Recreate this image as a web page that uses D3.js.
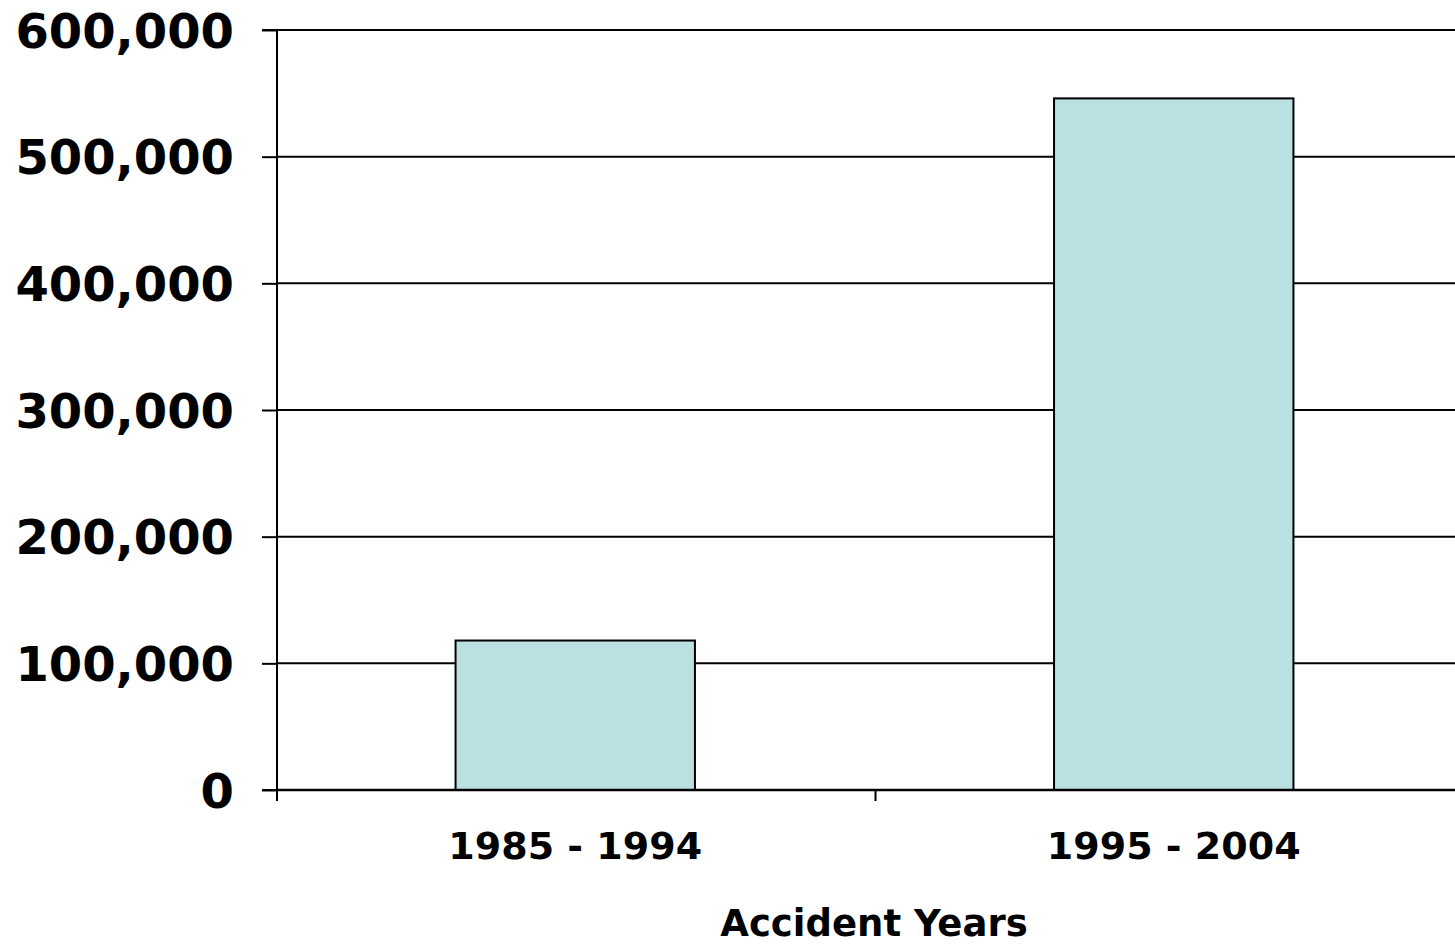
<!DOCTYPE html>
<html><head><meta charset="utf-8">
<script src="https://cdn.jsdelivr.net/npm/d3@7"></script>
<style>
html,body{margin:0;padding:0;background:#fff;}
svg{display:block;}
text{font-family:"DejaVu Sans",Verdana,sans-serif;font-weight:bold;fill:#000;}
</style></head>
<body>
<script>
const categories = ["1985 - 1994", "1995 - 2004"];
const values = [118000, 546000];
const yTicks = [0, 100000, 200000, 300000, 400000, 500000, 600000];
const xTitle = "Accident Years";

const W = 1455, H = 946;
const m = {left: 277, top: 30, bottom: 156};
const plotRight = 1474;
const svg = d3.select("body").append("svg").attr("width", W).attr("height", H);

const x = d3.scaleBand().domain(categories).range([m.left, plotRight]).paddingInner(0.6).paddingOuter(0.3);
const y = d3.scaleLinear().domain([0, 600000]).range([H - m.bottom, m.top]);

// gridlines
svg.append("g").selectAll("line").data(yTicks.filter(d => d > 0)).join("line")
  .attr("x1", m.left).attr("x2", W).attr("y1", d => y(d)).attr("y2", d => y(d))
  .attr("stroke", "#000").attr("stroke-width", 2);

// bars
svg.append("g").selectAll("rect").data(values).join("rect")
  .attr("x", (d, i) => x(categories[i]) - 1).attr("width", x.bandwidth())
  .attr("y", d => y(d)).attr("height", d => y(0) - y(d))
  .attr("fill", "#bbe0e1").attr("stroke", "#000").attr("stroke-width", 2);

// y axis
const yAxis = d3.axisLeft(y).tickValues(yTicks).tickSize(15).tickPadding(28).tickFormat(d3.format(","));
const gy = svg.append("g").attr("transform", `translate(${m.left},0)`).call(yAxis);
gy.select(".domain").attr("stroke", "#000").attr("stroke-width", 2).attr("d", `M-15,${y(600000)}H0V${y(0)}H-15`);
gy.selectAll(".tick line").attr("stroke-width", 2);
gy.selectAll(".tick text").style("font-size", "48px").attr("dy", "0.36em");

// x axis
const gx = svg.append("g").attr("transform", `translate(0,${y(0)})`);
gx.append("line").attr("x1", m.left).attr("x2", W).attr("stroke", "#000").attr("stroke-width", 2.5);
gx.selectAll("line.tk").data([m.left, m.left + x.step()]).join("line").attr("class", "tk")
  .attr("x1", d => d).attr("x2", d => d).attr("y1", 0).attr("y2", 11)
  .attr("stroke", "#000").attr("stroke-width", 2);
gx.selectAll("text").data(categories).join("text")
  .attr("x", d => x(d) + x.bandwidth() / 2 - 1).attr("y", 69)
  .attr("text-anchor", "middle").style("font-size", "38px").text(d => d);

svg.append("text").attr("x", 874).attr("y", 936).attr("text-anchor", "middle")
  .style("font-size", "37px").text(xTitle);
</script>
</body></html>
